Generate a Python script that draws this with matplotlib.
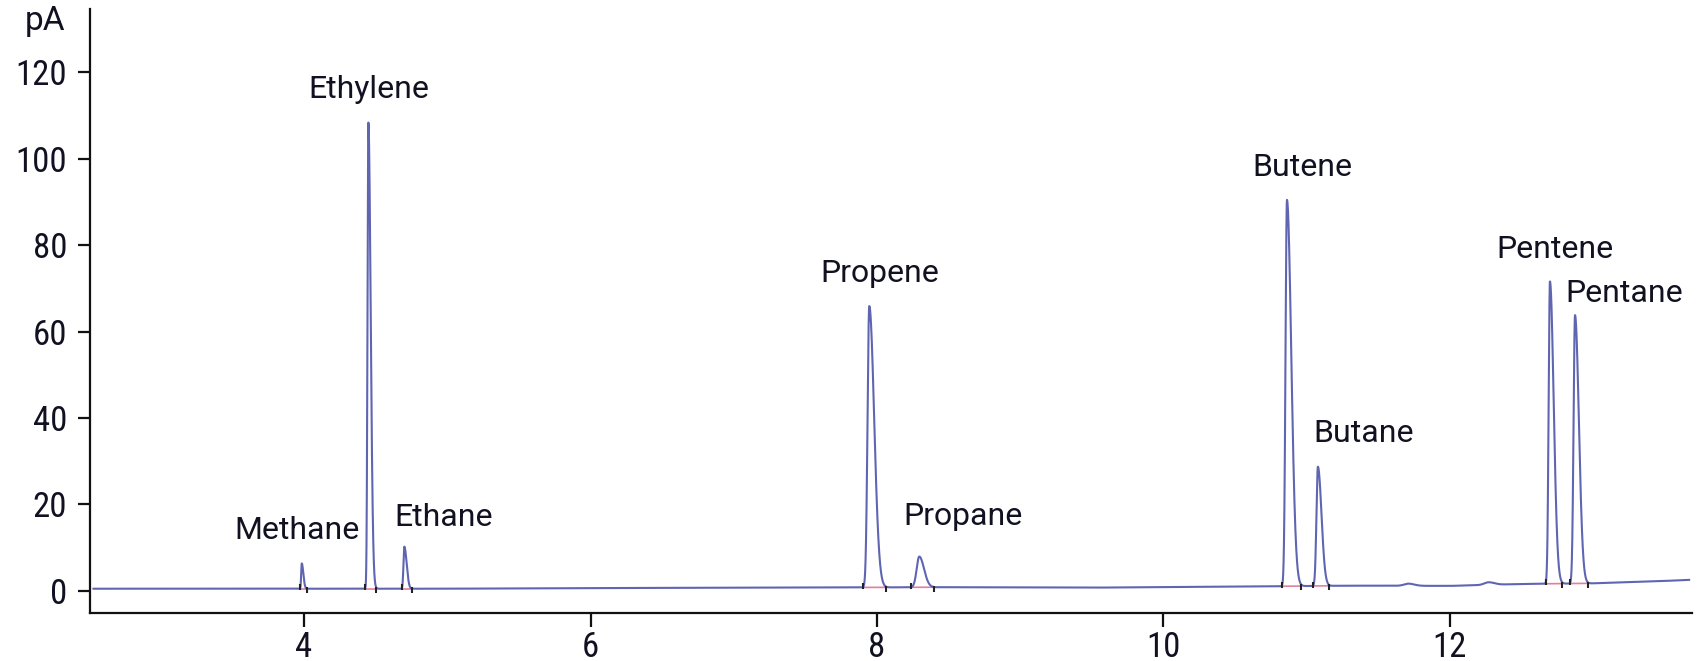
import numpy as np
import matplotlib
matplotlib.use("Agg")
import matplotlib.pyplot as plt

plt.rcParams['font.family'] = ['Roboto Condensed', 'Liberation Sans']
label_font = ['Roboto', 'Liberation Sans']

# peak table: name, retention time (min), apex signal (pA), front/tail widths (min)
names = ["Methane", "Ethylene", "Ethane", "Propene", "Propane",
         "Butene", "Butane", "Pentene", "Pentane"]
rt = [3.984, 4.449, 4.700, 7.946, 8.295, 10.862, 11.078, 12.698, 12.873]
apex = [6.3, 108.4, 10.2, 65.9, 7.9, 90.5, 28.7, 71.6, 63.8]
front = [0.004, 0.006, 0.006, 0.012, 0.018, 0.010, 0.010, 0.009, 0.010]
tail = [0.011, 0.016, 0.016, 0.034, 0.033, 0.030, 0.025, 0.026, 0.027]

# integration start/stop times
peak_start = [3.97, 4.428, 4.682, 7.905, 8.237, 10.825, 11.046, 12.668, 12.838]
peak_end = [4.02, 4.503, 4.752, 8.06, 8.398, 10.958, 11.158, 12.78, 12.961]

# unlabelled bumps
bump_rt = [11.71, 12.27]
bump_h = [0.5, 0.6]

# baseline drift
base_t = [2.53, 5.0, 6.0, 8.5, 9.5, 10.5, 11.3, 12.0, 12.5, 13.0, 13.5, 13.67]
base_y = [0.45, 0.45, 0.6, 0.8, 0.7, 0.93, 1.16, 1.1, 1.55, 1.7, 2.25, 2.5]

# label offsets from the apex, in pixels
label_dx = [-5, 0, 39, 10, 44, 15, 46, 5, 49]
label_dy = [33, 33, 29, 33, 40, 32, 33, 32, 22]


def bigauss(t, center, height, s_left, s_right):
    s = np.where(t < center, s_left, s_right)
    return height * np.exp(-0.5 * ((t - center) / s) ** 2)


t = np.arange(base_t[0], base_t[-1], 0.0005)
signal = np.interp(t, base_t, base_y)
for c, h, sl, sr in zip(rt, apex, front, tail):
    signal += bigauss(t, c, h - np.interp(c, base_t, base_y), sl, sr)
for c, h in zip(bump_rt, bump_h):
    signal += bigauss(t, c, h, 0.03, 0.04)

fig = plt.figure(figsize=(16.99, 6.61), dpi=100)
ax = fig.add_axes([0.053, 0.0731, 0.9429, 0.9133])

ax.plot(t, signal, color='#4f54aa', lw=1.5, alpha=0.9, zorder=3)

# integration baselines and markers
for s, e in zip(peak_start, peak_end):
    ys = np.interp(s, base_t, base_y)
    ye = np.interp(e, base_t, base_y)
    ax.plot([s, e], [ys, ye], color='#e27fa0', lw=1.2, zorder=2)
    ax.plot([s, e], [ys + 0.3, ye - 0.3], ls='none', marker='|',
            color='#222222', ms=5, mew=1.5, zorder=4)

for name, c, h, dx, dy in zip(names, rt, apex, label_dx, label_dy):
    ax.annotate(name, (c, h), xytext=(dx, dy), textcoords='offset pixels',
                ha='center', va='center', fontsize=23, color='#111122',
                family=label_font)

ax.set_xlim(2.506, 13.69)
ax.set_ylim(-5.1, 134.7)
ax.set_xticks([4, 6, 8, 10, 12])
ax.set_yticks([0, 20, 40, 60, 80, 100, 120])
ax.spines['top'].set_visible(False)
ax.spines['right'].set_visible(False)
for side in ('left', 'bottom'):
    ax.spines[side].set_linewidth(1.6)
    ax.spines[side].set_color('#111111')
ax.tick_params(axis='both', direction='out', width=1.6, color='#111111',
               labelsize=25, labelcolor='#111122')
ax.tick_params(axis='x', length=10, pad=3)
ax.tick_params(axis='y', length=8.5, pad=8)

fig.text(45 / 1699, 1 - 21 / 661, "pA", ha='center', va='center',
         fontsize=24, color='#111122', family=label_font)

fig.savefig("out.png", dpi=100)
